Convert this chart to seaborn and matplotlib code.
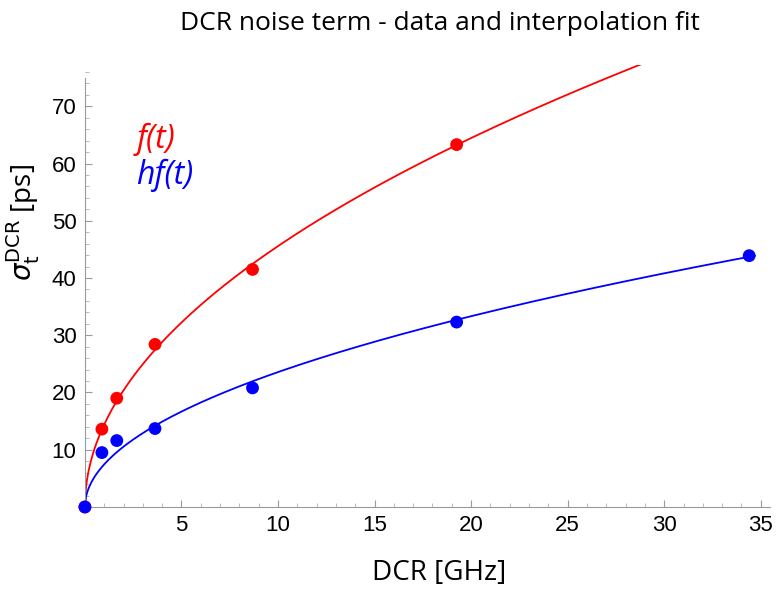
import numpy as np
import pandas as pd
import matplotlib
matplotlib.use("Agg")
import matplotlib.pyplot as plt
from matplotlib.ticker import MultipleLocator
import seaborn as sns

# ========== data ==========
dcr_f = [0, 0.88, 1.65, 3.63, 8.68, 19.25]
sigma_f = [0, 13.6, 19.0, 28.4, 41.5, 63.3]
dcr_hf = [0, 0.88, 1.65, 3.63, 8.68, 19.25, 34.4]
sigma_hf = [0, 9.5, 11.6, 13.7, 20.8, 32.3, 43.9]
x_ticks = [5, 10, 15, 20, 25, 30, 35]
y_ticks = [10, 20, 30, 40, 50, 60, 70]

sns.set_style("ticks")
plt.rcParams['font.family'] = ['Liberation Sans', 'DejaVu Sans']
plt.rcParams['text.color'] = 'black'
label_font = ['Open Sans', 'DejaVu Sans']

# ========== sqrt fit  sigma = a*sqrt(DCR) ==========
def sqrt_fit(x, y):
    x = np.asarray(x, float)
    y = np.asarray(y, float)
    return np.sum(y * np.sqrt(x)) / np.sum(x)

a_f = sqrt_fit(dcr_f, sigma_f)
a_hf = sqrt_fit(dcr_hf, sigma_hf)
xf = np.linspace(0, 30, 600)
xh = np.linspace(0, 34.7, 600)
fit_df = pd.concat([
    pd.DataFrame({'x': xf, 'y': a_f * np.sqrt(xf), 's': 'f'}),
    pd.DataFrame({'x': xh, 'y': a_hf * np.sqrt(xh), 's': 'hf'}),
])
pts_df = pd.concat([
    pd.DataFrame({'x': dcr_f, 'y': sigma_f, 's': 'f'}),
    pd.DataFrame({'x': dcr_hf, 'y': sigma_hf, 's': 'hf'}),
])
pal = {'f': '#ff0000', 'hf': '#0000ff'}

fig = plt.figure(figsize=(7.79, 5.94), dpi=100)
ax = fig.add_axes([0.109, 0.1465, 0.880, 0.744])

sns.lineplot(data=fit_df, x='x', y='y', hue='s', palette=pal, lw=1.3,
             legend=False, ax=ax, sort=False, estimator=None)
sns.scatterplot(data=pts_df, x='x', y='y', hue='s', palette=pal, s=85,
                edgecolor='none', legend=False, ax=ax, clip_on=False, zorder=5)

ax.set_xlim(0, 35.5)
ax.set_ylim(0, 77.2)
ax.spines['top'].set_visible(False)
ax.spines['right'].set_visible(False)
for sp in ['left', 'bottom']:
    ax.spines[sp].set_color('#9a9a9a')
ax.spines['left'].set_bounds(0, 75)
ax.set_xticks(x_ticks)
ax.set_yticks(y_ticks)
ax.xaxis.set_minor_locator(MultipleLocator(1))
ax.yaxis.set_minor_locator(MultipleLocator(2))
ax.tick_params(which='major', direction='in', length=5, color='#9a9a9a',
               labelsize=16, pad=6, labelcolor='black')
ax.tick_params(which='minor', direction='in', length=3, color='#b0b0b0')

ax.set_xlabel('DCR [GHz]', fontsize=20, family=label_font, color='black')
ax.xaxis.set_label_coords(0.517, -0.118)
ax.set_ylabel(r'$\sigma_{\mathrm{t}}^{\mathrm{DCR}}$ [ps]', fontsize=20,
              family=label_font, color='black')
ax.yaxis.set_label_coords(-0.062, 0.643)
fig.suptitle('DCR noise term - data and interpolation fit', fontsize=19,
             family=label_font, x=0.565, y=0.982, color='black')

ax.text(0.075, 0.812, 'f(t)', color='#ff0000', fontsize=23, style='italic',
        family=label_font, va='baseline', transform=ax.transAxes)
ax.text(0.075, 0.731, 'hf(t)', color='#0000ff', fontsize=23, style='italic',
        family=label_font, va='baseline', transform=ax.transAxes)

fig.savefig('out.png', dpi=100)
